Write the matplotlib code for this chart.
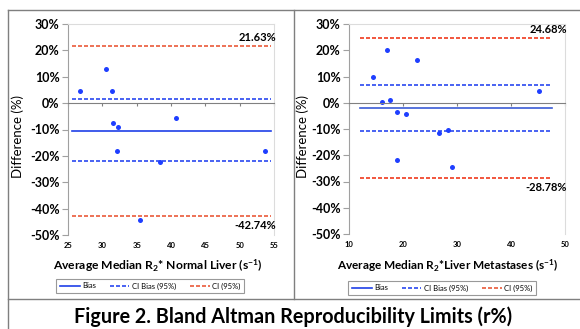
## Bland Altman reproducibility plots, normal liver and liver metastases

import matplotlib
matplotlib.use("Agg")
from matplotlib import pyplot as plt
from matplotlib.lines import Line2D
from matplotlib.ticker import FuncFormatter

plt.rcParams['font.family'] = ['Lato', 'DejaVu Sans']
plt.rcParams['mathtext.fontset'] = 'custom'
plt.rcParams['mathtext.rm'] = 'Lato:bold'
plt.rcParams['mathtext.default'] = 'rm'

## normal liver: average median R2* vs difference (%)
liver_x = [26.75, 30.6, 31.4, 31.6, 32.3, 32.2, 35.5, 38.4, 40.8, 53.7]
liver_y = [4.5, 13.0, 4.5, -7.5, -9.1, -18.3, -44.4, -22.2, -5.8, -18.3]
liver_bias = -10.55
liver_ci_bias = [1.4, -22.1]
liver_ci = [21.63, -42.74]
liver_span = [25.6, 54.5]
liver_xticks = [25, 30, 35, 40, 45, 50, 55]

## liver metastases
meta_x = [14.5, 17.0, 16.2, 17.5, 18.8, 18.9, 20.6, 22.5, 26.7, 28.3, 29.1, 45.2]
meta_y = [9.8, 20.0, 0.1, 1.0, -3.4, -21.8, -4.2, 16.4, -11.5, -10.4, -24.3, 4.3]
meta_bias = -2.05
meta_ci_bias = [6.75, -10.7]
meta_ci = [24.68, -28.78]
meta_span = [12.1, 47.6]
meta_xticks = [10, 20, 30, 40, 50]

yticks = [30, 20, 10, 0, -10, -20, -30, -40, -50]

blue = '#1f3fff'
grey = '#a0a0a0'

fig = plt.figure(figsize=(5.8, 3.29), dpi=100)


def panel(rect, x, y, bias, ci_bias, ci, span, xticks, red, bias_col):
    ax = fig.add_axes(rect)
    ax.plot(span, [bias, bias], color=bias_col, lw=1.2)
    for v in ci_bias:
        ax.plot(span, [v, v], color='#2a48f0', lw=1.2, dashes=(2.4, 1.2))
    for v in ci:
        ax.plot(span, [v, v], color=red, lw=1.2, dashes=(2.4, 1.2))
    ax.plot(x, y, 'o', color=blue, ms=3.6, mec='none')
    ax.set_xlim(xticks[0], xticks[-1])
    ax.set_ylim(-50, 30)
    ax.set_yticks(yticks)
    ax.yaxis.set_major_formatter(FuncFormatter(lambda v, p: '%d%%' % v))
    ax.tick_params(axis='y', length=4, width=0.8, color=grey, labelsize=9, pad=2)
    for t in ax.get_yticklabels():
        t.set_fontweight('bold')
    ## horizontal axis crosses at 0, labels at the bottom
    ax.spines['bottom'].set_position(('data', 0))
    ax.spines['bottom'].set_color('#808080')
    ax.spines['left'].set_color(grey)
    ax.spines['top'].set_color('#dcdcdc')
    ax.spines['right'].set_color('#dcdcdc')
    ax.set_xticks(xticks)
    ax.tick_params(axis='x', length=2.5, width=0.8, color='#808080',
                   labelbottom=False)
    sec = ax.secondary_xaxis('bottom')
    sec.set_xticks(xticks)
    sec.spines['bottom'].set_visible(False)
    sec.tick_params(length=0, labelsize=5.5, pad=5)
    for t in sec.get_xticklabels():
        t.set_fontweight('bold')
    ## limit labels
    ax.annotate('%.2f%%' % ci[0], (1.01, ci[0]), xycoords=('axes fraction', 'data'),
                xytext=(0, 2), textcoords='offset points', ha='right', va='bottom',
                fontsize=8, fontweight='bold')
    ax.annotate('%.2f%%' % ci[1], (1.01, ci[1]), xycoords=('axes fraction', 'data'),
                xytext=(0, -3), textcoords='offset points', ha='right', va='top',
                fontsize=8, fontweight='bold')
    return ax


W, H = 580, 329
panel([68 / W, 1 - 235 / H, 206 / W, 211 / H], liver_x, liver_y, liver_bias,
      liver_ci_bias, liver_ci, liver_span, liver_xticks, '#ea5a3a', '#1f40e8')
panel([349 / W, 1 - 234 / H, 216 / W, 210 / H], meta_x, meta_y, meta_bias,
      meta_ci_bias, meta_ci, meta_span, meta_xticks, '#f03a1c', '#3b5bd6')

## axis titles
fig.text(18 / W, 1 - 137 / H, 'Difference (%)', rotation=90, ha='center', va='center', fontsize=9.5)
fig.text(303 / W, 1 - 137 / H, 'Difference (%)', rotation=90, ha='center', va='center', fontsize=9.5)
fig.text(158 / W, 1 - 266 / H, r'Average Median R$_2$* Normal Liver (s$^{-1}$)',
         ha='center', va='center', fontsize=8.7, fontweight='bold')
fig.text(448 / W, 1 - 266 / H, r'Average Median R$_2$*Liver Metastases (s$^{-1}$)',
         ha='center', va='center', fontsize=8.5, fontweight='bold')

## legends
handles = [Line2D([], [], color='#1f40e8', lw=1.2),
           Line2D([], [], color='#2a48f0', lw=1.2, dashes=(2.4, 1.2)),
           Line2D([], [], color='#ea5a3a', lw=1.2, dashes=(2.4, 1.2))]
names = ['Bias', 'CI Bias (95%)', 'CI (95%)']
for cx, cy in [(150, 286), (442, 288)]:
    leg = fig.legend(handles, names, loc='center', bbox_to_anchor=(cx / W, 1 - cy / H),
                     ncol=3, fontsize=5.5, frameon=True, fancybox=False,
                     handlelength=2.6, handletextpad=0.3, columnspacing=1.8,
                     borderpad=0.5, edgecolor='#808080')
    leg.get_frame().set_linewidth(0.8)

## chart borders
border = dict(color='#7f7f7f', lw=1.0, transform=fig.transFigure)
fig.add_artist(Line2D([8 / W, 1], [1 - 10 / H, 1 - 10 / H], **border))
fig.add_artist(Line2D([8 / W, 8 / W], [1 - 10 / H, 0], **border))
fig.add_artist(Line2D([294 / W, 294 / W], [1 - 10 / H, 1 - 299 / H], **border))
fig.add_artist(Line2D([8 / W, 1], [1 - 299 / H, 1 - 299 / H], **border))

fig.text(293 / W, 1 - 317 / H, 'Figure 2. Bland Altman Reproducibility Limits (r%)',
         ha='center', va='center', fontsize=14.2, fontweight='bold')

fig.savefig('out.png', dpi=100)
